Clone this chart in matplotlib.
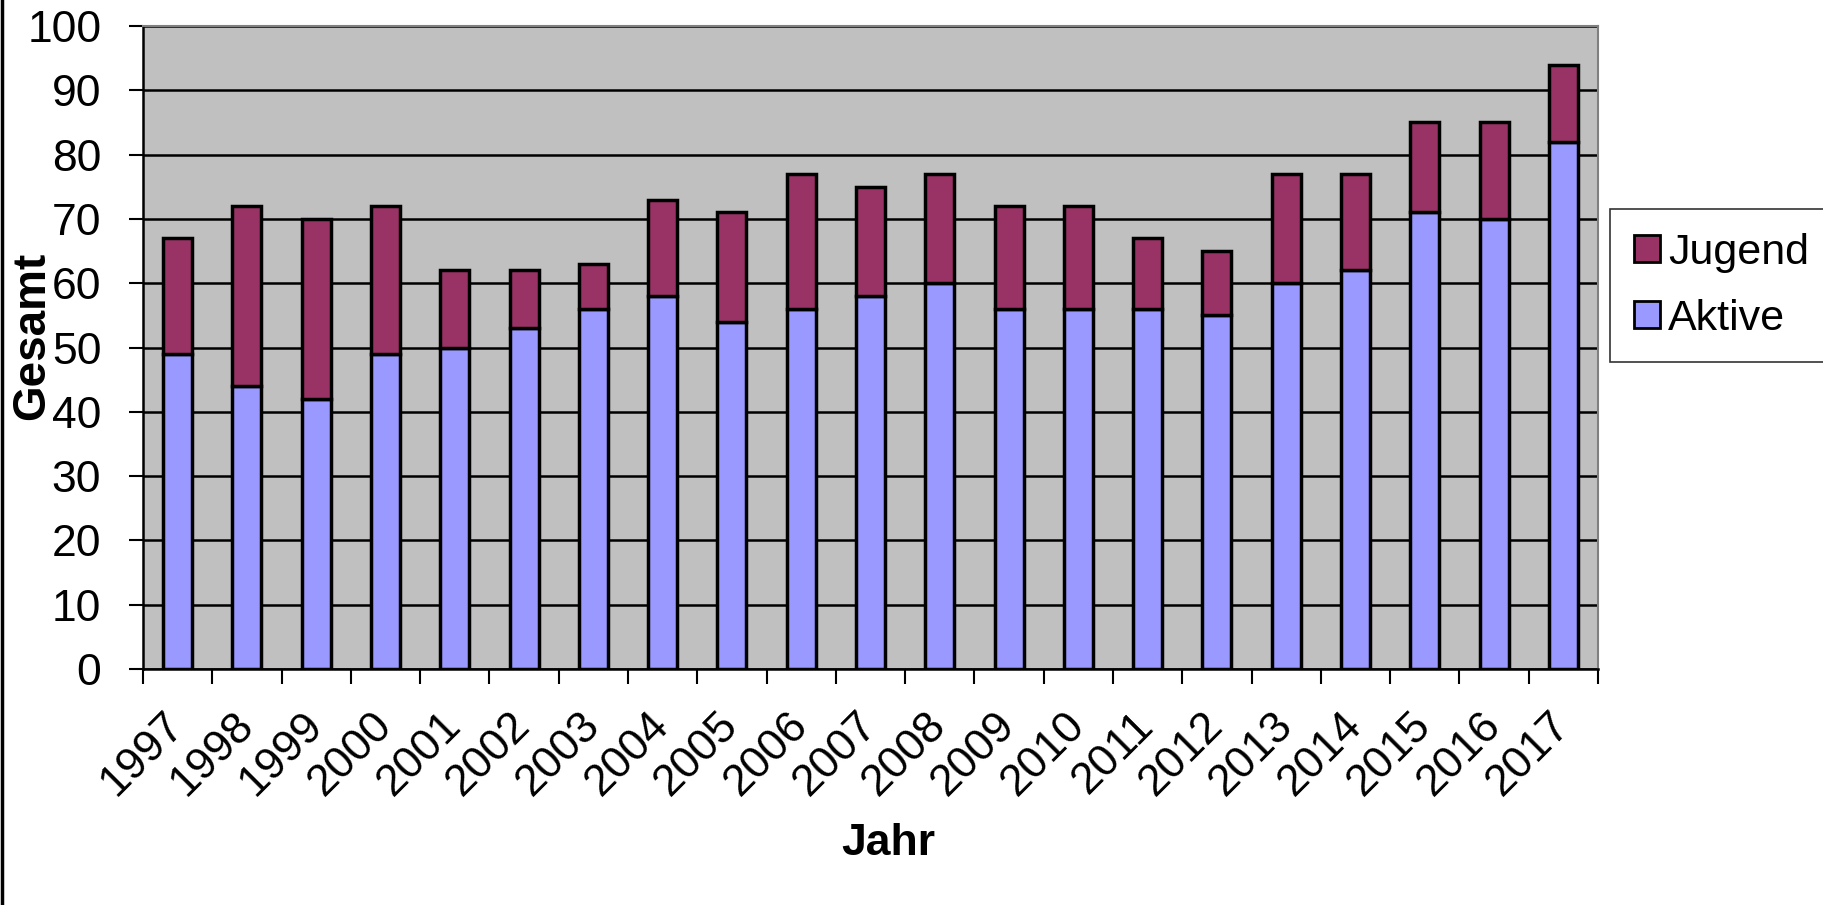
import matplotlib.pyplot as plt
import matplotlib.patches as mpatches
from matplotlib.lines import Line2D
import numpy as np

plt.rcParams['font.family'] = ['Liberation Sans', 'DejaVu Sans']

years = ['1997', '1998', '1999', '2000', '2001', '2002', '2003', '2004', '2005', '2006', '2007',
         '2008', '2009', '2010', '2011', '2012', '2013', '2014', '2015', '2016', '2017']
aktive = [49, 44, 42, 49, 50, 53, 56, 58, 54, 56, 58, 60, 56, 56, 56, 55, 60, 62, 71, 70, 82]
gesamt = [67, 72, 70, 72, 62, 62, 63, 73, 71, 77, 75, 77, 72, 72, 67, 65, 77, 77, 85, 85, 94]
jugend = [g - a for g, a in zip(gesamt, aktive)]

c_akt = '#9999FF'
c_jug = '#993366'

fig = plt.figure(figsize=(18.24, 9.05), dpi=100)
ax = fig.add_axes([143/1824, 236/905, 1455/1824, 643/905])
ax.set_facecolor('#C0C0C0')

x = np.arange(len(years)) + 0.5
ax.bar(x, aktive, width=0.42, color=c_akt, edgecolor='black', linewidth=2.5, zorder=3)
ax.bar(x, jugend, width=0.42, bottom=aktive, color=c_jug, edgecolor='black', linewidth=2.5, zorder=3)

ax.set_xlim(0, len(years))
ax.set_ylim(0, 100)
ax.set_yticks(range(0, 101, 10))
ax.set_axisbelow(True)
ax.yaxis.grid(True, color='black', linewidth=1.8)

# ticks at category borders, labels at centres
ax.set_xticks(np.arange(len(years) + 1))
ax.set_xticklabels([])
ax.set_xticks(x, minor=True)
ax.set_xticklabels(years, minor=True, rotation=45, ha='right', va='center',
                   rotation_mode='anchor', fontsize=32)
ax.tick_params(axis='x', which='major', direction='out', length=11, width=1.5)
ax.tick_params(axis='x', which='minor', length=0, pad=36)
ax.tick_params(axis='y', direction='out', length=10, width=1.5, labelsize=32, pad=20)

for s in ['left', 'bottom']:
    ax.spines[s].set_color('black')
    ax.spines[s].set_linewidth(1.8)
for s in ['top', 'right']:
    ax.spines[s].set_color('#808080')
    ax.spines[s].set_linewidth(1.5)

fig.text(32/1824, 1 - 336/905, 'Gesamt', rotation=90, ha='center', va='center',
         fontsize=33, fontweight='bold')
fig.text(888/1824, 1 - 843/905, 'Jahr', ha='center', va='center',
         fontsize=32, fontweight='bold')

handles = [mpatches.Patch(facecolor=c_jug, edgecolor='black', linewidth=2),
           mpatches.Patch(facecolor=c_akt, edgecolor='black', linewidth=2)]
leg = fig.legend(handles, ['Jugend', 'Aktive'], loc='upper left',
                 bbox_to_anchor=(1610/1824, 1 - 209/905), fontsize=31,
                 frameon=True, fancybox=False, edgecolor='black',
                 handlelength=0.6, handleheight=0.6, handletextpad=0.2,
                 labelspacing=0.6, borderpad=0.55, borderaxespad=0)
leg.get_frame().set_linewidth(1.2)

# left frame line of the chart area
fig.add_artist(Line2D([0.001, 0.001], [0, 1], color='black', linewidth=2.5))

fig.savefig('out.png', dpi=100)
